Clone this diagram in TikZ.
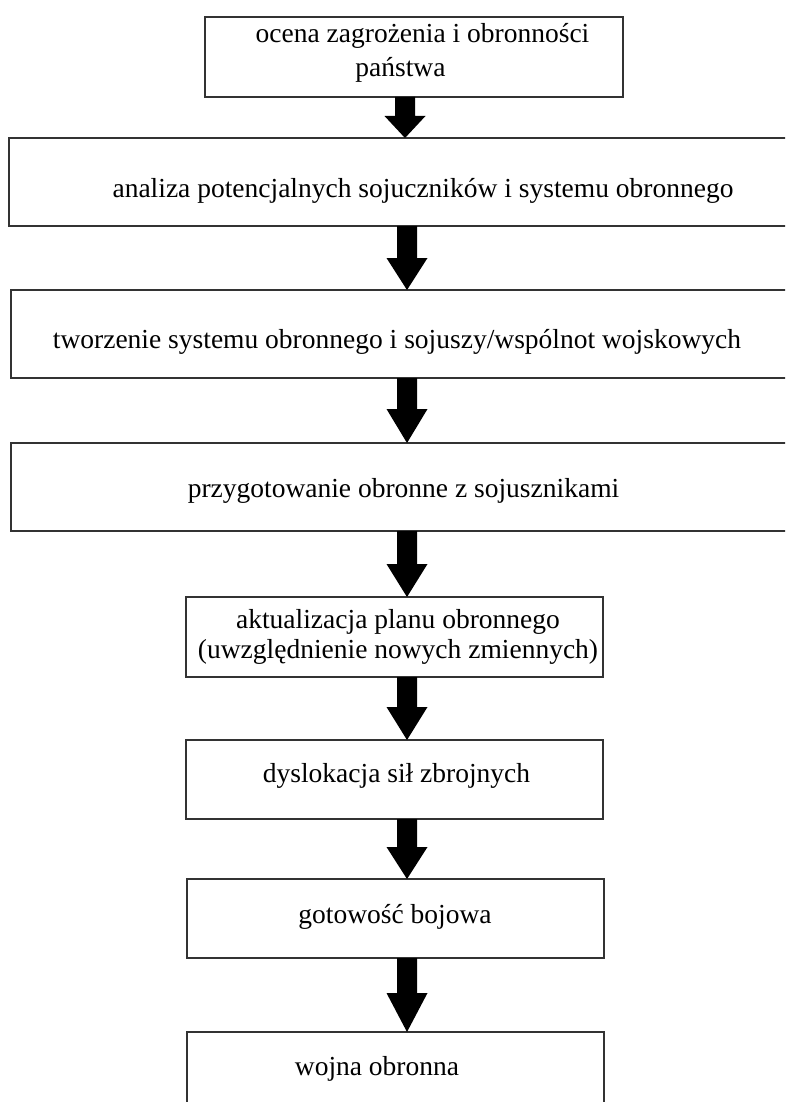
\documentclass[tikz,border=0pt]{standalone}
\usepackage{fontspec}
\setmainfont{Liberation Serif}
\usetikzlibrary{calc}
\tikzset{
  box/.style={draw=black!80, line width=1.4pt, fill=white, rectangle, inner sep=0pt, outer sep=0pt},
  lbl/.style={font=\fontsize{27.5}{30}\selectfont, inner sep=0pt, anchor=base, text=black},
  arrowfill/.style={fill=black},
}
\newcommand\blockarrow[4]{%
  \fill[arrowfill] let \p1=(#1.south), \p2=(#2.north) in
    (#3pt-10pt,\y1) -- (#3pt+10pt,\y1) -- (#3pt+10pt,\y2+#4pt) -- (#3pt+20.5pt,\y2+#4pt)
    -- (#3pt,\y2) -- (#3pt-20.5pt,\y2+#4pt) -- (#3pt-10pt,\y2+#4pt) -- cycle;}
\begin{document}
\begin{tikzpicture}[x=1pt,y=-1pt]
\path[use as bounding box, clip] (0,0) rectangle (785,1102);
\fill[white] (0,0) rectangle (785,1102);
% boxes
\node[box, minimum width=418pt, minimum height=80pt] (b1) at (414,57) {};
\node[box, minimum width=801pt, minimum height=88pt] (b2) at (409.5,182) {};
\node[box, minimum width=799pt, minimum height=88pt] (b3) at (410.5,334) {};
\node[box, minimum width=799pt, minimum height=88pt] (b4) at (410.5,487) {};
\node[box, minimum width=417pt, minimum height=80pt] (b5) at (394.5,637) {};
\node[box, minimum width=417pt, minimum height=79pt] (b6) at (394.5,779.5) {};
\node[box, minimum width=417pt, minimum height=79pt] (b7) at (395.5,918.5) {};
\node[box, minimum width=417pt, minimum height=83pt] (b8) at (395.5,1073.5) {};
% labels
\node[lbl, align=center, font=\fontsize{27.5}{34}\selectfont] (t1) at (422.5,77) {ocena zagrożenia i obronności\\państwa\hspace*{44pt}};
\node[lbl] (t2) at (423,197) {analiza potencjalnych sojuczników i systemu obronnego};
\node[lbl] (t3) at (397,348) {tworzenie systemu obronnego i sojuszy/wspólnot wojskowych};
\node[lbl] (t4) at (403.5,497) {przygotowanie obronne z sojusznikami};
\node[lbl, align=center] (t5) at (398,658) {aktualizacja planu obronnego\\(uwzględnienie nowych zmiennych)};
\node[lbl] (t6) at (396.5,782) {dyslokacja sił zbrojnych};
\node[lbl] (t7) at (395,923) {gotowość bojowa};
\node[lbl] (t8) at (377,1075) {wojna obronna};
% arrows
\blockarrow{b1}{b2}{405}{22}
\blockarrow{b2}{b3}{407}{32}
\blockarrow{b3}{b4}{407}{34}
\blockarrow{b4}{b5}{407}{33}
\blockarrow{b5}{b6}{407}{33}
\blockarrow{b6}{b7}{407}{32}
\blockarrow{b7}{b8}{407}{39}
\end{tikzpicture}
\end{document}
